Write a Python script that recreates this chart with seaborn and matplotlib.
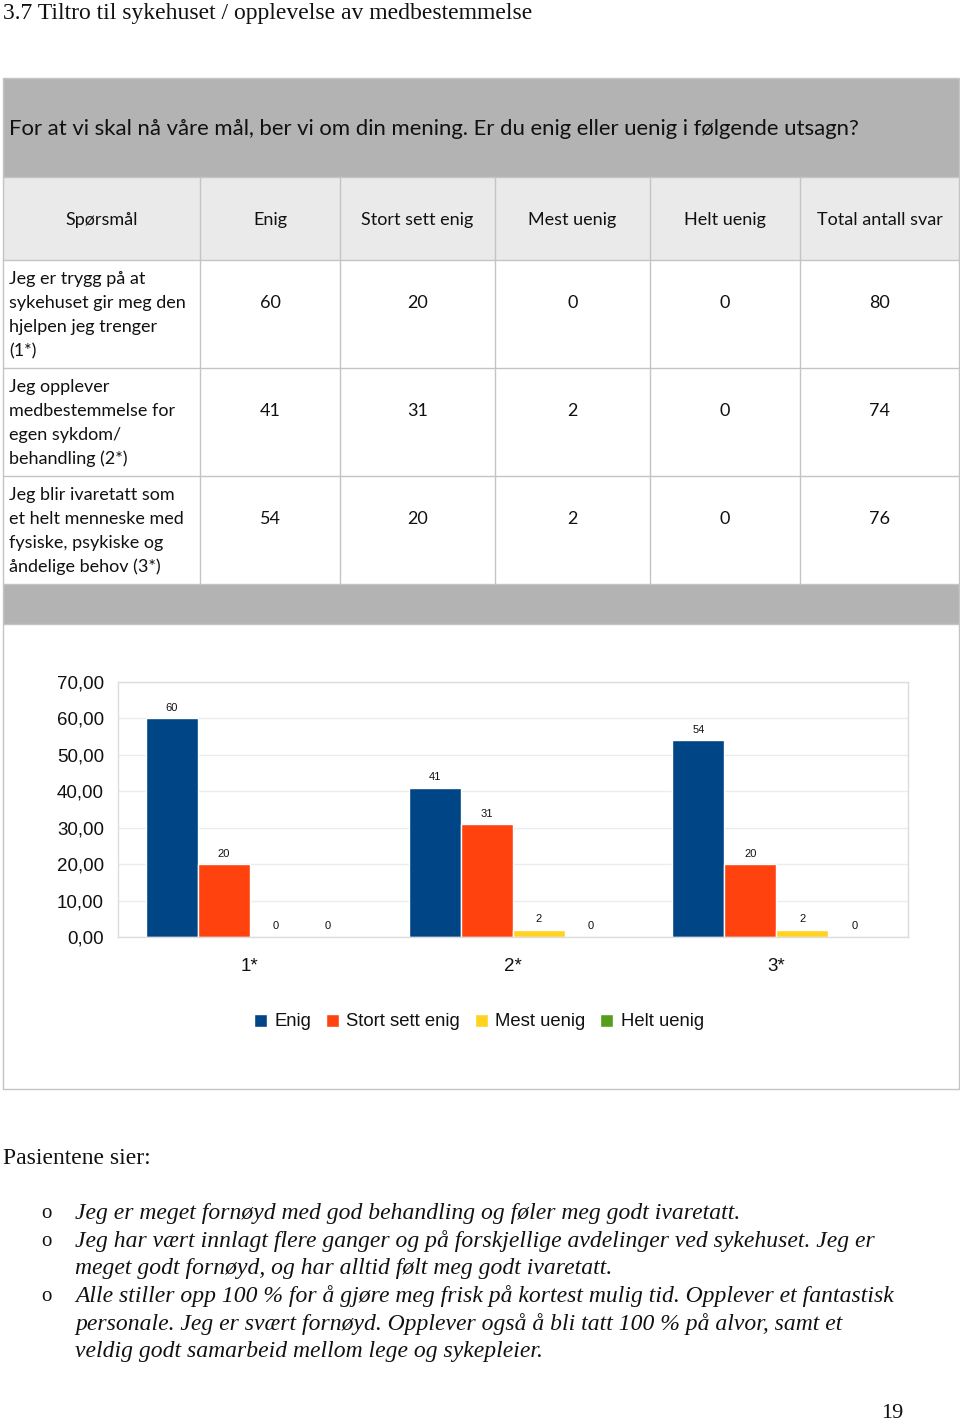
import matplotlib
matplotlib.use("Agg")
import matplotlib.pyplot as plt
import seaborn as sns
import pandas as pd
from matplotlib.patches import Rectangle
from matplotlib.lines import Line2D
from matplotlib.ticker import FuncFormatter, FixedLocator

# ---------------- data ----------------
title = "3.7 Tiltro til sykehuset / opplevelse av medbestemmelse"
question = "For at vi skal nå våre mål, ber vi om din mening. Er du enig eller uenig i følgende utsagn?"
columns = ["Spørsmål", "Enig", "Stort sett enig", "Mest uenig", "Helt uenig", "Total antall svar"]
statements = [
    ["Jeg er trygg på at", "sykehuset gir meg den", "hjelpen jeg trenger", "(1*)"],
    ["Jeg opplever", "medbestemmelse for", "egen sykdom/", "behandling (2*)"],
    ["Jeg blir ivaretatt som", "et helt menneske med", "fysiske, psykiske og", "åndelige behov (3*)"],
]
categories = ["1*", "2*", "3*"]
series = ["Enig", "Stort sett enig", "Mest uenig", "Helt uenig"]
enig = [60, 41, 54]
stort_sett_enig = [20, 31, 20]
mest_uenig = [0, 2, 2]
helt_uenig = [0, 0, 0]
totals = [80, 74, 76]
colors = ["#004586", "#ff420e", "#ffd320", "#579d1c"]
yticks = [0, 10, 20, 30, 40, 50, 60, 70]
intro = "Pasientene sier:"
quotes = [
    ["Jeg er meget fornøyd med god behandling og føler meg godt ivaretatt."],
    ["Jeg har vært innlagt flere ganger og på forskjellige avdelinger ved sykehuset. Jeg er",
     "meget godt fornøyd, og har alltid følt meg godt ivaretatt."],
    ["Alle stiller opp 100 % for å gjøre meg frisk på kortest mulig tid. Opplever et fantastisk",
     "personale. Jeg er svært fornøyd. Opplever også å bli tatt 100 % på alvor, samt et",
     "veldig godt samarbeid mellom lege og sykepleier."],
]
page_number = "19"

# ---------------- setup ----------------
sns.set_theme(style="white")
W, H = 960, 1425
fig = plt.figure(figsize=(W / 100, H / 100), dpi=100)
fig.patch.set_facecolor("white")


def fx(x):
    return x / W


def fy(y):
    return 1 - y / H


def rect(x0, y0, x1, y1, fc, ec="none", lw=0):
    fig.add_artist(Rectangle((fx(x0), fy(y1)), fx(x1) - fx(x0), fy(y0) - fy(y1),
                             transform=fig.transFigure, facecolor=fc, edgecolor=ec, lw=lw))


def hline(y, x0, x1, c="#c4c4c4", lw=1):
    fig.add_artist(Line2D([fx(x0), fx(x1)], [fy(y), fy(y)], transform=fig.transFigure, color=c, lw=lw))


def vline(x, y0, y1, c="#c4c4c4", lw=1):
    fig.add_artist(Line2D([fx(x), fx(x)], [fy(y0), fy(y1)], transform=fig.transFigure, color=c, lw=lw))


SERIF = ["Liberation Serif", "DejaVu Serif"]
TABLE = ["Lato", "DejaVu Sans"]
SANS = ["Liberation Sans", "DejaVu Sans"]
TXT = "#111111"

# title
fig.text(fx(3), fy(13), title, family=SERIF, fontsize=17, va="center", ha="left", color=TXT)

# table backgrounds
rect(3, 78, 959, 177, "#b3b3b3")
rect(3, 177, 959, 260, "#eaeaea")
rect(3, 584, 959, 624, "#b3b3b3")

col_x = [3, 200, 340, 495, 650, 800, 959]
row_y = [260, 368, 476, 584]

# grid lines
for x in col_x[1:-1]:
    vline(x, 177, 584)
for y in [177, 260, 368, 476, 584, 624]:
    hline(y, 3, 959)
hline(78, 3, 959)
hline(1089, 3, 959)
vline(3, 78, 1089)
vline(959, 78, 1089)

fig.text(fx(9), fy(129), question, family=TABLE, fontsize=15.9, va="center", ha="left", color=TXT)

for i, c in enumerate(columns):
    cx = (col_x[i] + col_x[i + 1]) / 2
    fig.text(fx(cx), fy(220), c, family=TABLE, fontsize=13, va="center", ha="center", color=TXT)

values_by_row = list(zip(enig, stort_sett_enig, mest_uenig, helt_uenig, totals))
for r, lines in enumerate(statements):
    top = row_y[r]
    for k, line in enumerate(lines):
        fig.text(fx(9), fy(top + 19 + 24 * k), line, family=TABLE, fontsize=13,
                 va="center", ha="left", color=TXT)
    for j, v in enumerate(values_by_row[r]):
        cx = (col_x[j + 1] + col_x[j + 2]) / 2
        fig.text(fx(cx), fy(top + 43), str(v), family=TABLE, fontsize=13,
                 va="center", ha="center", color=TXT)

# ---------------- chart ----------------
df = pd.DataFrame({
    "kategori": categories * 4,
    "serie": [s for s in series for _ in categories],
    "verdi": enig + stort_sett_enig + mest_uenig + helt_uenig,
})

ax = fig.add_axes([fx(118), fy(937), fx(908) - fx(118), fy(682) - fy(937)])
sns.barplot(data=df, x="kategori", y="verdi", hue="serie", hue_order=series, order=categories,
            palette=colors, saturation=1, width=0.79, ax=ax, errorbar=None, legend=True)

for cont in ax.containers:
    ax.bar_label(cont, labels=[f"{b.get_height():.0f}" for b in cont], padding=4,
                 fontsize=8, family=SANS, color=TXT)

ax.set_xlim(-0.5, 2.5)
ax.set_ylim(0, 70)
ax.yaxis.set_major_locator(FixedLocator(yticks))
ax.yaxis.set_major_formatter(FuncFormatter(lambda v, p: f"{v:.2f}".replace(".", ",")))
ax.grid(axis="y", color="#ececec", lw=1)
ax.set_axisbelow(True)
for s in ax.spines.values():
    s.set_color("#dcdcdc")
    s.set_linewidth(1)
ax.set_xlabel("")
ax.set_ylabel("")
ax.tick_params(axis="y", which="major", length=4, color="#dcdcdc", labelsize=13.5, pad=6)
ax.tick_params(axis="x", which="major", length=0, labelsize=13.5, pad=15)
ax.set_xticks([-0.5, 0.5, 1.5, 2.5], minor=True)
ax.tick_params(axis="x", which="minor", length=5, color="#dcdcdc")
for lab in ax.get_xticklabels() + ax.get_yticklabels():
    lab.set_family(SANS)
    lab.set_color(TXT)

sns.move_legend(ax, "center", bbox_to_anchor=(fx(479), fy(1022)), bbox_transform=fig.transFigure,
                ncol=4, frameon=False, title=None, fontsize=13.3, handlelength=0.7, handleheight=0.7,
                handletextpad=0.4, columnspacing=0.8)
for t in ax.get_legend().get_texts():
    t.set_family(SANS)
    t.set_color(TXT)

# ---------------- quotes ----------------
fig.text(fx(3), fy(1159), intro, family=SERIF, fontsize=17, va="center", ha="left", color=TXT)
y = 1214
for q in quotes:
    fig.text(fx(46), fy(y), "o", family=SERIF, fontsize=15, va="center", ha="center", color=TXT)
    for line in q:
        fig.text(fx(75), fy(y), line, family=SERIF, fontsize=17, style="italic",
                 va="center", ha="left", color=TXT)
        y += 27.4

fig.text(fx(903), fy(1414), page_number, family=SERIF, fontsize=16, va="center", ha="right", color=TXT)

fig.savefig("out.png", dpi=100, facecolor="white")
